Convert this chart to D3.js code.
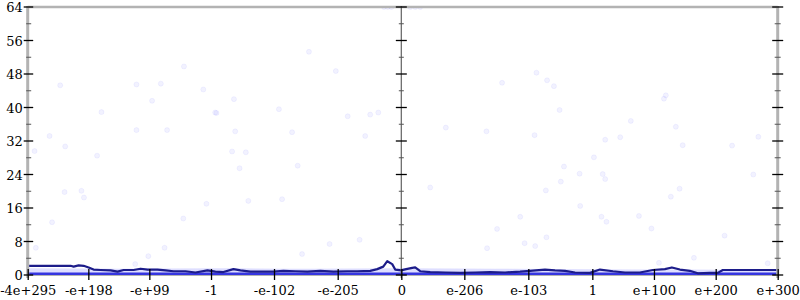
<!DOCTYPE html>
<html>
<head>
<meta charset="utf-8">
<script src="https://cdn.jsdelivr.net/npm/d3@7"></script>
<style>
  html, body { margin: 0; padding: 0; background: #fff; }
  svg { display: block; }
  text { font-family: "DejaVu Serif", serif; font-size: 13px; fill: #000; }
</style>
</head>
<body>
<svg id="chart" width="800" height="300"></svg>
<script>
// ---------- data ----------
const xTickLabels = ["-4e+295","-e+198","-e+99","-1","-e-102","-e-205","0","e-206","e-103","1","e+100","e+200","e+300"];
const xTickValues = [-6,-5.03,-4.054,-3.067,-2.059,-1.04,-0.022,0.986,2.01,3.034,4.02,5.008,6];
const yTickValues = [0,8,16,24,32,40,48,56,64];
const yMinorTicks = [4,12,20,28,36,44,52,60];

// smoothed line (x position, value)
const lineX = [-6,-5.313,-5.265,-5.185,-5.105,-5.025,-4.946,-4.834,-4.674,-4.562,-4.466,-4.306,-4.194,-4.082,-3.923,-3.795,-3.667,-3.475,-3.316,-3.124,-2.996,-2.868,-2.708,-2.596,-2.437,-2.245,-2.069,-1.909,-1.717,-1.526,-1.318,-1.110,-0.887,-0.727,-0.519,-0.407,-0.311,-0.247,-0.168,-0.120,-0.024,0.056,0.152,0.200,0.280,0.440,0.679,0.919,1.159,1.398,1.638,1.878,2.037,2.277,2.437,2.597,2.757,2.996,3.156,3.364,3.556,3.795,4.003,4.195,4.307,4.435,4.594,4.722,4.914,5.042,5.122,6];
const lineY = [2.2,2.2,2.0,2.3,2.2,1.8,1.3,1.2,1.1,0.8,1.2,1.2,1.5,1.3,1.3,1.1,0.9,0.9,0.6,1.1,0.8,0.7,1.4,1.1,0.8,0.8,0.8,1.0,0.9,0.8,1.0,0.8,0.9,0.9,1.0,1.4,2.0,3.3,2.6,1.3,1.1,1.4,1.7,1.8,0.9,0.7,0.6,0.5,0.6,0.7,0.6,0.8,1.0,1.3,1.1,1.0,0.6,0.5,1.3,0.9,0.6,0.6,1.2,1.4,1.8,1.3,1.0,0.4,0.5,0.5,1.2,1.2];

// dense low cloud of samples (upper edge)
const bandX = [-6,-4.5,-3,-1.5,0,1.5,3,4.5,6];
const bandTop = [1.6,1.5,1.6,1.5,1.6,1.5,1.4,1.3,1.2];

// scattered outlier samples
const pointsX = [-3.50,-5.48,-4.26,-3.87,-3.19,-4.01,-4.82,-3.00,-4.26,-3.77,-5.65,-5.40,-5.89,-4.89,-5.41,-5.14,-5.10,-3.14,-3.51,-5.61,-5.87,-3.81,-4.07,-4.28,
  -1.50,-1.07,-2.70,-1.98,-2.98,-0.88,-0.52,-0.39,-2.68,-1.77,-0.60,-2.73,-2.51,-2.61,-1.68,-2.47,-1.93,-0.69,-1.17,-1.61,
  2.14,2.31,2.42,1.59,2.51,0.69,1.34,2.11,2.58,2.83,2.53,2.29,0.44,2.84,1.88,1.51,2.30,1.95,2.12,1.35,
  4.21,4.18,3.65,4.37,3.24,3.48,5.69,4.48,5.27,3.06,3.20,3.24,5.61,4.43,4.29,3.18,3.26,3.78,3.98,5.15,4.66,4.10,5.84,
  -0.30,-0.24,-0.18,0.12,0.20,0.28];
const pointsY = [49.8,45.3,45.5,45.7,44.3,41.6,38.9,38.8,34.6,34.6,33.2,30.7,29.6,28.5,19.8,20.1,18.5,17.0,13.5,12.6,6.5,6.5,4.5,2.6,
  53.3,48.7,42.0,39.6,38.7,37.9,38.3,38.8,34.3,34.1,33.2,29.5,29.3,25.5,26.1,17.7,18.1,8.4,7.4,5.0,
  48.3,46.5,45.1,45.9,39.4,35.2,34.3,33.4,25.9,24.2,22.3,20.2,20.9,16.5,13.9,11.0,9.0,7.6,6.9,6.4,
  42.9,42.1,36.8,35.4,32.3,32.9,33.0,31.0,30.9,28.1,24.1,22.9,24.0,20.6,18.7,13.9,12.7,14.1,11.1,9.4,4.1,2.9,2.8,
  64,64,64,64,64,64];

// ---------- chart ----------
(function () {
const svg = d3.select("#chart");
const pL = 27.7, pR = 777.7, pT = 7, pB = 275;
const x = d3.scaleLinear().domain([-6, 6]).range([pL, pR]);
const y = d3.scaleLinear().domain([0, 64]).range([pB, pT]);

svg.append("defs").append("clipPath").attr("id", "clip")
  .append("rect").attr("x", pL).attr("y", pT).attr("width", pR - pL).attr("height", pB - pT);

const gray = "#b3b3b3";
svg.append("line").attr("x1", pL).attr("x2", pR).attr("y1", pB).attr("y2", pB)
  .attr("stroke", gray).attr("stroke-width", 2);

const plot = svg.append("g").attr("clip-path", "url(#clip)");

// low dense band
plot.append("path")
  .datum(bandX.map((d, i) => [d, bandTop[i]]))
  .attr("fill", "#6a6aff").attr("fill-opacity", 0.22)
  .attr("d", d3.area().x(d => x(d[0])).y0(y(0)).y1(d => y(d[1])).curve(d3.curveMonotoneX));

// outlier points
plot.append("g").selectAll("circle")
  .data(pointsX.map((d, i) => [d, pointsY[i]]))
  .join("circle")
  .attr("cx", d => x(d[0])).attr("cy", d => y(d[1])).attr("r", 2.5)
  .attr("fill", "#6a6aff").attr("fill-opacity", 0.09)
  .attr("stroke", "#6a6aff").attr("stroke-opacity", 0.07);

// top border
svg.append("line").attr("x1", pL).attr("x2", pR).attr("y1", pT).attr("y2", pT)
  .attr("stroke", gray).attr("stroke-width", 2.5);

// zero samples (dense)
plot.append("path")
  .datum([[-6, 0], [6, 0]])
  .attr("fill", "none").attr("stroke", "#3535e0").attr("stroke-width", 5)
  .attr("d", d3.line().x(d => x(d[0])).y(d => y(d[1])));

// main line
plot.append("path")
  .datum(lineX.map((d, i) => [d, lineY[i]]))
  .attr("fill", "none").attr("stroke", "#1c1c8a").attr("stroke-width", 2.2)
  .attr("stroke-linejoin", "round")
  .attr("d", d3.line().x(d => x(d[0])).y(d => y(d[1])));

// vertical axes
function vAxis(px, color, width, majL, majR, minL, minR) {
  const g = svg.append("g");
  g.append("line").attr("x1", px).attr("x2", px).attr("y1", pT - 1).attr("y2", pB + 3)
    .attr("stroke", color).attr("stroke-width", width);
  g.selectAll(".maj").data(yTickValues).join("line").attr("class", "maj")
    .attr("x1", px - majL).attr("x2", px + majR).attr("y1", d => y(d)).attr("y2", d => y(d))
    .attr("stroke", "#000").attr("stroke-width", 1.3);
  g.selectAll(".min").data(yMinorTicks).join("line").attr("class", "min")
    .attr("x1", px - minL).attr("x2", px + minR).attr("y1", d => y(d)).attr("y2", d => y(d))
    .attr("stroke", "#555").attr("stroke-width", 1);
  return g;
}
vAxis(pL, gray, 3, 4, 5.5, 1.5, 3.5);
vAxis(x(xTickValues[6]), "#6e6e6e", 1.3, 5.5, 5.5, 2.5, 2.5);
vAxis(pR, gray, 3, 5.5, 5.5, 3, 3);

// y labels via d3 axis
const yAxis = d3.axisLeft(y).tickValues(yTickValues).tickSize(0).tickPadding(0).tickFormat(d3.format("d"));
const yg = svg.append("g").attr("transform", `translate(${pL - 5},0)`).call(yAxis);
yg.select(".domain").remove();
yg.selectAll("text").attr("font-family", "DejaVu Serif").attr("font-size", 13).attr("fill", "#000").attr("dy", "0.36em");

// x axis ticks + labels
const xAxis = d3.axisBottom(x).tickValues(xTickValues).tickSize(0).tickPadding(0)
  .tickFormat((d, i) => xTickLabels[i]);
const xg = svg.append("g").attr("transform", `translate(0,${pB})`).call(xAxis);
xg.select(".domain").remove();
xg.selectAll("text").attr("font-family", "DejaVu Serif").attr("font-size", 13).attr("fill", "#000")
  .attr("y", 20).attr("dy", 0);
xg.selectAll(".tick").append("line").attr("y1", -6).attr("y2", 5).attr("stroke", "#000").attr("stroke-width", 1.3);
})();
</script>
</body>
</html>
